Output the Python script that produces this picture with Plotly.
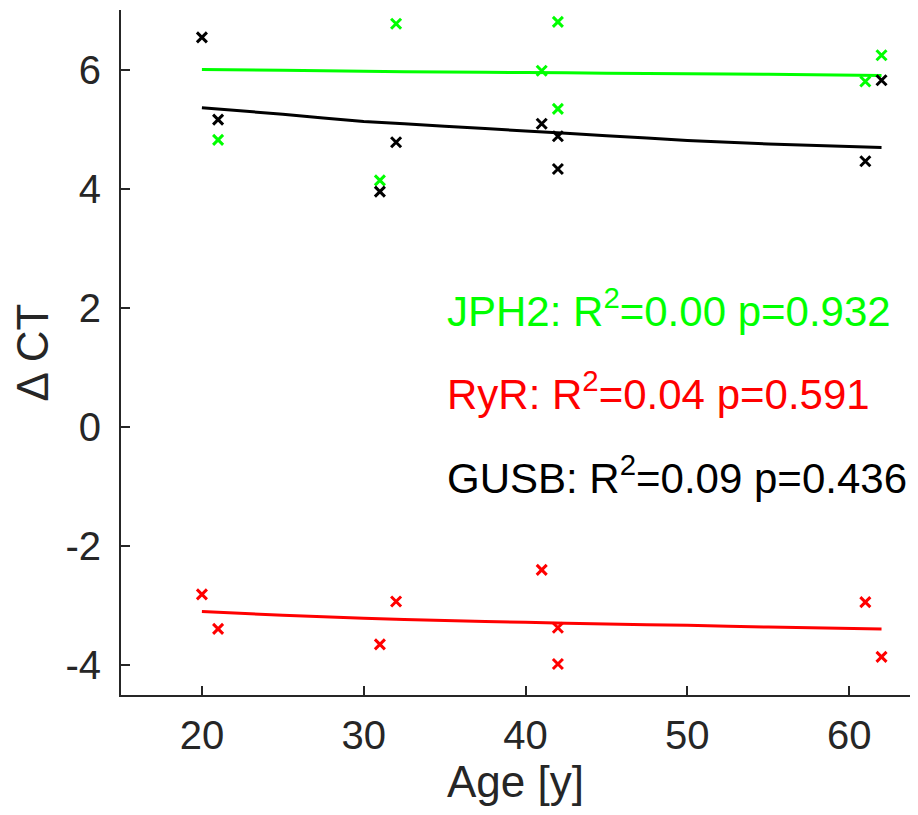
import plotly.graph_objects as go

# ---- data ----
ages = [20, 21, 31, 32, 41, 42, 42, 61, 62]
jph2 = [None, 4.82, 4.14, 6.77, 5.98, 6.80, 5.34, 5.80, 6.24]
ryr = [-2.81, -3.39, -3.65, -2.93, -2.40, -3.37, -3.98, -2.94, -3.86]
gusb = [6.54, 5.16, 3.95, 4.78, 5.09, 4.88, 4.33, 4.46, 5.82]

fit_ages = [20, 25, 30, 35, 40, 45, 50, 55, 62]
jph2_fit = [6.00, 5.99, 5.97, 5.96, 5.95, 5.94, 5.93, 5.92, 5.90]
ryr_fit = [-3.10, -3.16, -3.21, -3.25, -3.28, -3.31, -3.33, -3.36, -3.39]
gusb_fit = [5.36, 5.25, 5.13, 5.05, 4.97, 4.89, 4.81, 4.75, 4.69]

genes = ["JPH2", "RyR", "GUSB"]
r2_text = ["0.00", "0.04", "0.09"]
p_text = ["0.932", "0.591", "0.436"]
label_y = [2.0, 0.6, -0.8]

x_ticks = [20, 30, 40, 50, 60]
y_ticks = [-4, -2, 0, 2, 4, 6]
y_tick_text = ["-4", "-2", "0", "2", "4", "6"]

colors = ["#00FF00", "#FF0000", "#000000"]
FONT = "Liberation Sans, Arial, Helvetica, sans-serif"
AX = "#262626"

fig = go.Figure()
series = [jph2, ryr, gusb]
fits = [jph2_fit, ryr_fit, gusb_fit]
for vals, fitv, c, g in zip(series, fits, colors, genes):
    fig.add_trace(go.Scatter(x=fit_ages, y=fitv, mode="lines",
                             line=dict(color=c, width=3, shape="spline", smoothing=0.6),
                             name=g + " fit", showlegend=False, hoverinfo="skip"))
for vals, c, g in zip(series, colors, genes):
    fig.add_trace(go.Scatter(x=ages, y=vals, mode="markers",
                             marker=dict(symbol="x-thin", size=10, color=c,
                                         line=dict(color=c, width=3)),
                             name=g, showlegend=False))

for g, r2, p, yv, c in zip(genes, r2_text, p_text, label_y, colors):
    fig.add_annotation(x=35, y=yv, xref="x", yref="y",
                       text=f"{g}: R<sup>2</sup>=" + r2 + " p=" + p,
                       showarrow=False, xanchor="left", yanchor="middle",
                       font=dict(family=FONT, size=42, color=c))

# page body has an 8px default margin; figure sized so no scrollbars appear
fig.update_layout(
    width=902, height=799,
    margin=dict(l=113, r=0, t=2, b=112),
    paper_bgcolor="white", plot_bgcolor="white",
    font=dict(family=FONT, color=AX),
    showlegend=False,
)
fig.update_xaxes(range=[15, 63.76], tickvals=x_ticks, ticks="inside", ticklen=9,
                 tickwidth=2, tickcolor=AX, showline=True, linecolor=AX, linewidth=2,
                 showgrid=False, zeroline=False, tickfont=dict(size=40, color=AX),
                 ticklabelstandoff=4, automargin=False,
                 title=dict(text="Age [y]", font=dict(size=44, color=AX), standoff=10))
fig.update_yaxes(range=[-4.5, 7], tickvals=y_ticks, ticktext=y_tick_text, ticks="inside",
                 ticklen=9, tickwidth=2, tickcolor=AX, showline=True, linecolor=AX,
                 linewidth=2, showgrid=False, zeroline=False, automargin=False,
                 tickfont=dict(size=40, color=AX), ticklabelstandoff=10,
                 title=dict(text="Δ CT", font=dict(size=44, color=AX), standoff=10))

fig.write_html("out.html")
